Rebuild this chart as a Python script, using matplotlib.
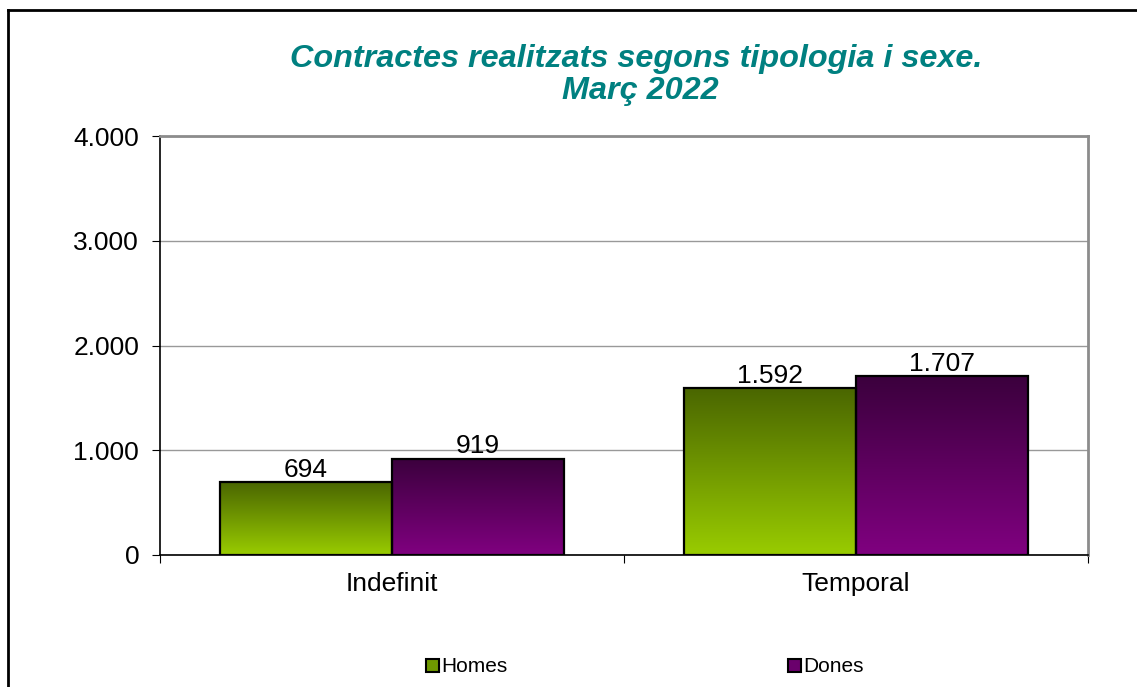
import numpy as np
import matplotlib
matplotlib.use("Agg")
import matplotlib.pyplot as plt
from matplotlib.colors import LinearSegmentedColormap
from matplotlib.lines import Line2D
from matplotlib.patches import Rectangle

categories = ["Indefinit", "Temporal"]
series = ["Homes", "Dones"]
homes = [694, 1592]
dones = [919, 1707]
labels_homes = ["694", "1.592"]
labels_dones = ["919", "1.707"]
yticks = [0, 1000, 2000, 3000, 4000]
ytick_labels = ["0", "1.000", "2.000", "3.000", "4.000"]

plt.rcParams['font.family'] = ['Liberation Sans', 'DejaVu Sans']

W, H = 1137, 687
fig = plt.figure(figsize=(W / 100, H / 100), dpi=100)
ax = fig.add_axes([160 / W, 1 - 555 / H, 928 / W, (555 - 136) / H])

# gradients: dark at top, bright at bottom
green = LinearSegmentedColormap.from_list("g", ["#99cc00", "#4a6600"])
purple = LinearSegmentedColormap.from_list("p", ["#800080", "#3b003d"])

bw = 172 / 464
x = np.arange(len(categories))
grad = np.linspace(0, 1, 256).reshape(-1, 1)

for vals, offs, cmap, labs in [(homes, -bw / 2, green, labels_homes),
                               (dones, bw / 2, purple, labels_dones)]:
    bars = ax.bar(x + offs, vals, bw, facecolor="none", edgecolor="black",
                  linewidth=1.6, zorder=4)
    for b, lab in zip(bars, labs):
        x0, y0 = b.get_x(), b.get_y()
        w, h = b.get_width(), b.get_height()
        im = ax.imshow(grad, cmap=cmap, aspect="auto", origin="lower",
                       extent=(x0, x0 + w, y0, y0 + h), zorder=3)
        im.set_clip_path(Rectangle((x0, y0), w, h, transform=ax.transData))
        ax.text(x0 + w / 2, y0 + h + 5, lab, ha="center", va="bottom",
                fontsize=19, color="black", zorder=5)

ax.set_xlim(-0.5, 1.5)
ax.set_ylim(0, 4000)
ax.set_yticks(yticks)
ax.set_yticklabels(ytick_labels, fontsize=19)
ax.set_xticks([-0.5, 0.5, 1.5])
ax.set_xticklabels([])
ax.set_xticks(x, minor=True)
ax.set_xticklabels(categories, minor=True, fontsize=19)
ax.tick_params(axis="x", which="minor", length=0, pad=12)
ax.tick_params(axis="x", which="major", length=6, direction="out", color="black")
ax.tick_params(axis="y", length=6, direction="out", color="black", pad=9)
ax.yaxis.grid(True, color="#999999", linewidth=1)
ax.set_axisbelow(True)
for s in ["top", "right"]:
    ax.spines[s].set_color("#8c8c8c")
    ax.spines[s].set_linewidth(2)
for s in ["left", "bottom"]:
    ax.spines[s].set_color("black")
    ax.spines[s].set_linewidth(1.2)

fig.text(636 / W, 1 - 59 / H, "Contractes realitzats segons tipologia i sexe.",
         ha="center", va="center", fontsize=23.3, fontweight="bold",
         style="italic", color="#008080")
fig.text(640 / W, 1 - 91 / H, "Març 2022", ha="center", va="center",
         fontsize=23.3, fontweight="bold", style="italic", color="#008080")

handles = [Rectangle((0, 0), 1, 1, facecolor="#6f9900", edgecolor="black", linewidth=1.5),
           Rectangle((0, 0), 1, 1, facecolor="#6a006c", edgecolor="black", linewidth=1.5)]
for hnd, name, xp in zip(handles, series, [426, 788]):
    leg = fig.legend([hnd], [name], loc="center left",
                     bbox_to_anchor=(xp / W, 1 - 667 / H), frameon=False,
                     fontsize=15, handlelength=0.6, handleheight=0.6,
                     handletextpad=0.15, borderpad=0, borderaxespad=0)

# outer chart border (left and top visible)
fig.add_artist(Line2D([7.5 / W, 7.5 / W], [0, 1 - 10 / H], color="black",
                      linewidth=2, transform=fig.transFigure))
fig.add_artist(Line2D([7.5 / W, 1], [1 - 10 / H, 1 - 10 / H], color="black",
                      linewidth=2, transform=fig.transFigure))

fig.savefig("out.png", dpi=100)
